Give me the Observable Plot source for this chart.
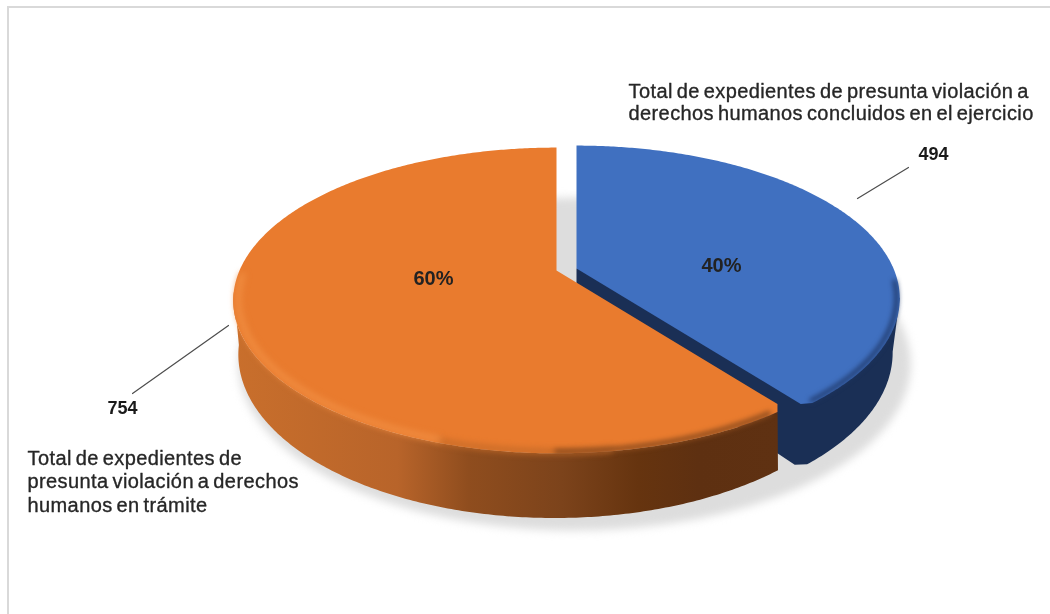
<!DOCTYPE html>
<html lang="es">
<head>
<meta charset="utf-8">
<style>html,body{margin:0;padding:0;background:#fff}svg{display:block}</style>
<script src="https://cdn.jsdelivr.net/npm/d3@7"></script>
<script src="https://cdn.jsdelivr.net/npm/@observablehq/plot@0.6"></script>
</head>
<body>
<div id="chart"></div>
<script>
// --- data ---
const categories = ["concluidos", "en trámite"];
const values = [494, 754];
const sliceLabels = [
  ["Total de expedientes de presunta violación a", "derechos humanos concluidos en el ejercicio"],
  ["Total de expedientes de", "presunta violación a derechos", "humanos en trámite"]
];

// --- look & layout (screen units, top-left origin) ---
const W = 1050, H = 614;
const persp = 0.196, a = 147, b = 317, depth = 52, baseShrink = 0.978;
const blueApex = [576, 268], orangeApex = [556, 270], orangeBase = [554, 270];
const font = "Liberation Sans, Arial, sans-serif";
const textColor = "#262626";

const total = d3.sum(values);
const arcs = d3.pie().sort(null)(values);
const [blueArc, orangeArc] = arcs;
const deg = Math.PI / 180;

// perspective projection of a pie-plane point (theta clockwise from 12 o'clock)
function proj([x0, y0], t, r = 1, base = false) {
  const u = r * Math.sin(t), v = -r * Math.cos(t), s = 1 / (1 - persp * v);
  return base
    ? {x: x0 + baseShrink * b * u * s, y: y0 + a * v * s + depth * s}
    : {x: x0 + b * u * s, y: y0 + a * v * s};
}
function arc(apex, t0, t1, r = 1, base = false) {
  const n = Math.max(2, Math.ceil(Math.abs(t1 - t0) / 0.01));
  return d3.range(n + 1).map(i => proj(apex, t0 + (t1 - t0) * i / n, r, base));
}
// top face; the corner at the shared front angle is softened like the bevel in the picture
const corner = 1.6 * deg, cornerR = 0.972;
const blueTop = [proj(blueApex, 0, 0), ...arc(blueApex, blueArc.startAngle, blueArc.endAngle - corner), proj(blueApex, blueArc.endAngle, cornerR + 0.012), proj(blueApex, 0, 0)];
const orangeTop = [proj(orangeApex, 0, 0), proj(orangeApex, orangeArc.startAngle, cornerR), ...arc(orangeApex, orangeArc.startAngle + corner, orangeArc.endAngle), proj(orangeApex, 0, 0)];

// dark wall of the blue slice: outer wall plus the cut face, as one outline
const blueWallFrom = 101 * deg;
const blueWall = [
  proj(blueApex, 0, 0),
  proj(blueApex, blueWallFrom),
  ...arc(blueApex, blueWallFrom, blueArc.endAngle - corner, 1, true),
  proj(blueApex, blueArc.endAngle, 0.98, true),
  proj(blueApex, 0, 0, true)
];
// outer wall of the orange slice
const orangeWallTo = 262 * deg;
const orangeWall = [
  proj(orangeApex, orangeArc.startAngle, cornerR),
  ...arc(orangeApex, orangeArc.startAngle + corner, orangeWallTo),
  ...arc(orangeBase, orangeWallTo, orangeArc.startAngle, 1, true)
];

const poly = (pts, fill, extra = {}) => Plot.line(pts, {x: "x", y: "y", fill, stroke: "none", curve: "linear", ...extra});
const rim = (pts, stroke, strokeWidth, blur, extra = {}) =>
  Plot.line(pts, {x: "x", y: "y", stroke, strokeWidth, curve: "linear", imageFilter: `blur(${blur}px)`, ...extra});

// shadow ellipse
const shadow = d3.range(0, 2 * Math.PI + 0.02, 0.02).map(t => {
  const u = Math.sin(t), v = -Math.cos(t), s = 1 / (1 - persp * v);
  return {x: 574 + 1.04 * b * u * s, y: 331 + 1.088 * a * v * s};
});

// gradient defs
function defs() {
  const d = d3.create("svg:defs");
  const g = d.append("linearGradient").attr("id", "orangeSide")
    .attr("gradientUnits", "userSpaceOnUse").attr("x1", 233).attr("x2", 780).attr("y1", 0).attr("y2", 0);
  [[0, "#c96f2c"], [0.3, "#b8642a"], [0.43, "#8f4d1e"], [0.6, "#7c431b"], [0.74, "#66340f"], [0.85, "#5e3011"], [1, "#5f3112"]]
    .forEach(([o, c]) => g.append("stop").attr("offset", o).attr("stop-color", c));
  return d.node();
}

const percent = v => Math.round(100 * v / total) + "%";
const valueLabels = [
  {text: String(values[0]), x: 933, y: 159},
  {text: String(values[1]), x: 122, y: 413}
];
const pctLabels = [
  {text: percent(values[0]), x: 721, y: 271},
  {text: percent(values[1]), x: 433, y: 284}
];
const nameLines = [
  ...sliceLabels[0].map((text, i) => ({text, x: 628, y: 97 + 22 * i})),
  ...sliceLabels[1].map((text, i) => ({text, x: 27, y: 464 + 23.5 * i}))
];
const leaders = [
  [{x: 857, y: 198}, {x: 908, y: 167}],
  [{x: 228, y: 325}, {x: 132, y: 393}]
];

const softText = "blur(0.4px)";
const chart = Plot.plot({
  width: W, height: H,
  margin: 0,
  x: {domain: [0, W], range: [0, W], axis: null},
  y: {domain: [0, H], range: [0, H], axis: null},
  marks: [
    defs,
    Plot.ruleX([7.5], {y1: 6, y2: H, stroke: "#d9d9d9", strokeWidth: 2}),
    Plot.ruleY([6.5], {x1: 7, x2: W, stroke: "#d9d9d9", strokeWidth: 2}),
    poly(shadow, "#dddddd", {imageFilter: "blur(4px)"}),

    // blue slice
    poly(blueWall, "#1a2f55"),
    poly(blueTop, "#4070c0"),
    rim(arc(blueApex, 95 * deg, blueArc.endAngle - 2 * deg, 0.99), "#1f3868", 4, 2.5),

    // orange slice
    poly(orangeWall, "url(#orangeSide)"),
    poly(orangeTop, "#e97b2e"),
    rim(arc(orangeApex, 172 * deg, 198 * deg, 0.992), "#c46a28", 5, 3),
    rim(arc(orangeApex, orangeArc.startAngle + 3 * deg, 180 * deg, 0.992), "#8f4d1e", 5, 2.5),
    rim(arc(orangeApex, 198 * deg, 268 * deg, 0.985), "#f08c40", 6, 3),

    // leaders
    ...leaders.map(l => Plot.line(l, {x: "x", y: "y", stroke: "#4d4d4d", strokeWidth: 1.2})),

    // labels
    Plot.text(nameLines, {x: "x", y: "y", text: "text", textAnchor: "start", lineAnchor: "bottom",
      fontFamily: font, fontSize: 20, fill: textColor, stroke: textColor, strokeWidth: 0.35, imageFilter: softText}),
    Plot.text(valueLabels, {x: "x", y: "y", text: "text", textAnchor: "middle", lineAnchor: "bottom",
      fontFamily: font, fontSize: 18, fontWeight: "bold", fill: "#1a1a1a", imageFilter: softText}),
    Plot.text(pctLabels, {x: "x", y: "y", text: "text", textAnchor: "middle", lineAnchor: "bottom",
      fontFamily: font, fontSize: 20, fontWeight: "bold", fill: "#222222", imageFilter: softText})
  ]
});
const textGroups = chart.querySelectorAll('g[aria-label="text"]');
textGroups[0].style.letterSpacing = "0.4px";
textGroups[0].style.wordSpacing = "-2px";
document.getElementById("chart").appendChild(chart);
</script>
</body>
</html>
